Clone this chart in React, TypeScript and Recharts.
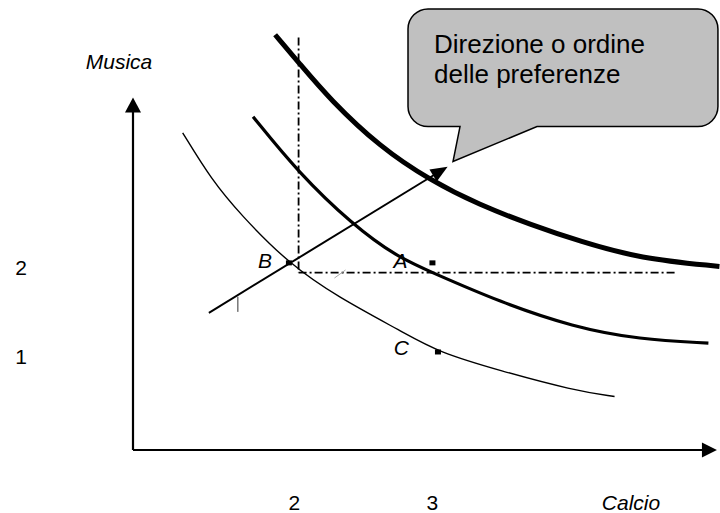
import { ComposedChart, Line, Scatter, XAxis, YAxis, ReferenceLine, ReferenceArea, Label } from 'recharts'

const FONT = '"Liberation Sans", Arial, sans-serif'

// asse x = Calcio, asse y = Musica
const calcioTicks = [2, 3]
const musicaTicks = [1, 2]
const calcioDomain = [0.83, 5.084]
const musicaDomain = [-0.05, 5.0]

// curve di indifferenza
const curvaBassa = [
  { x: 1.19, y: 3.51 },
  { x: 1.4, y: 2.98 },
  { x: 1.61, y: 2.59 },
  { x: 1.96, y: 2.04 },
  { x: 2.31, y: 1.67 },
  { x: 2.79, y: 1.27 },
  { x: 3.04, y: 1.05 },
  { x: 3.49, y: 0.84 },
  { x: 4.02, y: 0.62 },
  { x: 4.32, y: 0.55 }
]
const curvaMedia = [
  { x: 1.7, y: 3.69 },
  { x: 2.03, y: 3.06 },
  { x: 2.42, y: 2.48 },
  { x: 2.74, y: 2.12 },
  { x: 3.0, y: 1.94 },
  { x: 3.49, y: 1.61 },
  { x: 4.02, y: 1.33 },
  { x: 4.5, y: 1.19 },
  { x: 5.0, y: 1.15 }
]
const curvaAlta = [
  { x: 1.86, y: 4.61 },
  { x: 2.03, y: 4.3 },
  { x: 2.26, y: 3.88 },
  { x: 2.62, y: 3.35 },
  { x: 2.98, y: 2.98 },
  { x: 3.34, y: 2.7 },
  { x: 3.71, y: 2.48 },
  { x: 4.07, y: 2.29 },
  { x: 4.5, y: 2.1 },
  { x: 5.08, y: 2.01 }
]

const punti = [
  { nome: 'A', x: 3.0, y: 2.05 },
  { nome: 'B', x: 1.96, y: 2.05 },
  { nome: 'C', x: 3.04, y: 1.05 }
]

const direzione = [{ x: 1.38, y: 1.49 }, { x: 3.11, y: 3.13 }]
const guidaVerticale = [{ x: 2.03, y: 4.58 }, { x: 2.03, y: 1.94 }]
const guidaOrizzontale = [{ x: 2.03, y: 1.94 }, { x: 4.77, y: 1.94 }]
const asseMusica = [{ x: 0.83, y: -0.05 }, { x: 0.83, y: 3.905 }]
const asseCalcio = [{ x: 0.83, y: -0.05 }, { x: 5.062, y: -0.05 }]
const tacca = [{ x: 1.59, y: 1.67 }, { x: 1.59, y: 1.5 }]
const segnoGrigio = [{ x: 2.29, y: 1.88 }, { x: 2.37, y: 1.97 }]

const fumetto = { x1: 2.823, x2: 5.069, y1: 3.58, y2: 4.9 }
const fumettoTesto = ['Direzione o ordine', 'delle preferenze']

const etichettaDx: Record<string, number> = { A: -25, B: -17, C: -29 }
const etichettaDy: Record<string, number> = { A: 5, B: 5, C: 3 }

const freccia = (len: number, half: number, width: number) => (p: any) => {
  const { x1, y1, x2, y2 } = p
  const dx = x2 - x1
  const dy = y2 - y1
  const l = Math.hypot(dx, dy) || 1
  const ux = dx / l
  const uy = dy / l
  const bx = x2 - ux * len
  const by = y2 - uy * len
  const px = -uy * half
  const py = ux * half
  return (
    <g>
      <line x1={x1} y1={y1} x2={bx + ux} y2={by + uy} stroke='#000' strokeWidth={width} />
      <polygon points={`${x2},${y2} ${bx + px},${by + py} ${bx - px},${by - py}`} fill='#000' />
    </g>
  )
}

const Fumetto = (p: any) => {
  const { x, y, width: w, height: h } = p
  const r = 20
  const b = y + h
  const d = `M${x + r},${y} H${x + w - r} A${r},${r} 0 0 1 ${x + w},${y + r} V${b - r} A${r},${r} 0 0 1 ${x + w - r},${b} H${x + 129} L${x + 45},${b + 35} L${x + 52},${b} H${x + r} A${r},${r} 0 0 1 ${x},${b - r} V${y + r} A${r},${r} 0 0 1 ${x + r},${y} Z`
  return (
    <g>
      <path d={d} fill='#c0c0c0' stroke='#000' strokeWidth={1.5} />
      {fumettoTesto.map((t, i) => (
        <text key={t} x={x + 26} y={y + 44 + i * 30} fontSize={26} fontFamily={FONT} fill='#000'>
          {t}
        </text>
      ))}
    </g>
  )
}

const Punto = (p: any) => {
  const { cx, cy, payload } = p
  const nome = payload.nome
  return (
    <g>
      <rect x={cx - 3} y={cy - 2.5} width={6} height={5} fill='#000' />
      <text
        x={cx + etichettaDx[nome]}
        y={cy + etichettaDy[nome]}
        textAnchor='end'
        fontSize={21}
        fontStyle='italic'
        fontFamily={FONT}
        fill='#000'
      >
        {nome}
      </text>
    </g>
  )
}

export default function App() {
  return (
    <div style={{ position: 'absolute', left: 0, top: 0 }}>
      <ComposedChart width={720} height={513} margin={{ top: 0, right: 0, bottom: 0, left: 0 }}>
        <XAxis
          type='number'
          dataKey='x'
          domain={calcioDomain}
          ticks={calcioTicks}
          height={63}
          axisLine={false}
          tickLine={false}
          tick={(t: any) => (
            <text x={t.x} y={510} textAnchor='middle' fontSize={21} fontFamily={FONT} fill='#000'>
              {t.payload.value}
            </text>
          )}
        >
          <Label
            content={() => (
              <text x={631} y={510} textAnchor='middle' fontSize={21} fontStyle='italic' fontFamily={FONT} fill='#000'>
                Calcio
              </text>
            )}
          />
        </XAxis>
        <YAxis
          type='number'
          dataKey='y'
          domain={musicaDomain}
          ticks={musicaTicks}
          width={133}
          axisLine={false}
          tickLine={false}
          tick={(t: any) => (
            <text x={21} y={t.y + 8} textAnchor='middle' fontSize={21} fontFamily={FONT} fill='#000'>
              {t.payload.value}
            </text>
          )}
        >
          <Label
            content={() => (
              <text x={119} y={69} textAnchor='middle' fontSize={21} fontStyle='italic' fontFamily={FONT} fill='#000'>
                Musica
              </text>
            )}
          />
        </YAxis>

        <ReferenceArea {...fumetto} ifOverflow='visible' shape={Fumetto} />

        <ReferenceLine segment={guidaVerticale} ifOverflow='visible' stroke='#000' strokeWidth={1.8} strokeDasharray='8 3 2 3' />
        <ReferenceLine segment={guidaOrizzontale} ifOverflow='visible' stroke='#000' strokeWidth={1.8} strokeDasharray='8 3 2 3' />
        <ReferenceLine segment={tacca} ifOverflow='visible' stroke='#333' strokeWidth={1} />
        <ReferenceLine segment={segnoGrigio} ifOverflow='visible' stroke='#aaa' strokeWidth={1} />

        <Line data={curvaBassa} dataKey='y' type='basis' stroke='#000' strokeWidth={1.4} dot={false} activeDot={false} isAnimationActive={false} />
        <Line data={curvaMedia} dataKey='y' type='basis' stroke='#000' strokeWidth={3.2} dot={false} activeDot={false} isAnimationActive={false} />
        <Line data={curvaAlta} dataKey='y' type='basis' stroke='#000' strokeWidth={5} dot={false} activeDot={false} isAnimationActive={false} />

        <ReferenceLine segment={direzione} ifOverflow='visible' shape={freccia(17, 7, 2)} />
        <ReferenceLine segment={asseMusica} ifOverflow='visible' shape={freccia(15, 8, 2.2)} />
        <ReferenceLine segment={asseCalcio} ifOverflow='visible' shape={freccia(15, 7.5, 2.2)} />

        <Scatter data={punti} dataKey='y' shape={Punto} isAnimationActive={false} />
      </ComposedChart>
    </div>
  )
}
